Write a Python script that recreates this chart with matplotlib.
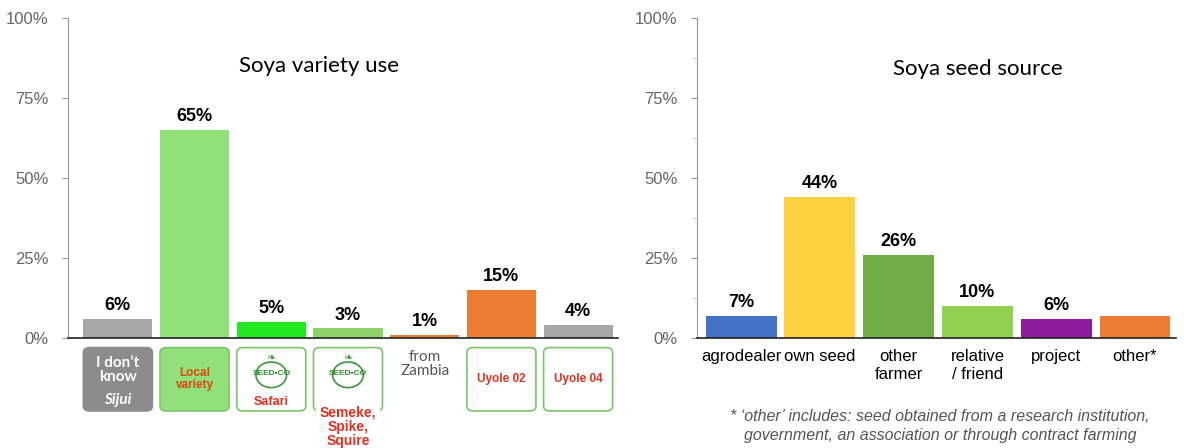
import numpy as np
import matplotlib.pyplot as plt
from matplotlib.patches import FancyBboxPatch, Ellipse

# left chart: variety use
variety_vals = [6, 65, 5, 3, 1, 15, 4]
variety_cols = ["#a6a6a6", "#92e07a", "#22e822", "#8fd16a", "#e8803a", "#ec7c31", "#a6a6a6"]

# right chart: seed source
source_labels = ["agrodealer", "own seed", "other\nfarmer", "relative\n/ friend", "project", "other*"]
source_vals = [7, 44, 26, 10, 6, 7]
source_cols = ["#4472c4", "#fdd13f", "#70ad47", "#92d050", "#8e1b9c", "#ed7d31"]
source_shown = [True, True, True, True, True, False]

footnote = ("* \u2018other\u2019 includes: seed obtained from a research institution,\n"
            "government, an association or through contract farming")

plt.rcParams["font.family"] = ["Liberation Sans", "DejaVu Sans"]

fig = plt.figure(figsize=(11.84, 4.48), dpi=100)
ax1 = fig.add_axes([68/1184, 1-338/448, 550/1184, 320/448])
ax2 = fig.add_axes([697/1184, 1-338/448, 479/1184, 320/448])

def style(ax, minor=False):
    ax.set_ylim(0, 100)
    ax.set_yticks([0, 25, 50, 75, 100])
    ax.set_yticklabels(["0%", "25%", "50%", "75%", "100%"])
    if minor:
        ax.set_yticks([12.5, 37.5, 62.5, 87.5], minor=True)
        ax.tick_params(axis="y", which="minor", length=3, color="#bbbbbb")
    ax.tick_params(axis="y", which="major", length=4, color="#999999",
                   labelsize=12, labelcolor="#666666", pad=10)
    ax.tick_params(axis="x", length=0)
    for s in ["top", "right"]:
        ax.spines[s].set_visible(False)
    ax.spines["left"].set_color("#999999")
    ax.spines["bottom"].set_color("#222222")
    ax.spines["bottom"].set_linewidth(1.2)

# ---- left
x1 = np.arange(len(variety_vals))
ax1.bar(x1, variety_vals, width=0.9, color=variety_cols)
ax1.set_xlim(-0.65, 6.52)
style(ax1)
ax1.set_xticks([])
for i, v in enumerate(variety_vals):
    ax1.text(i, v + 1.5, f"{v}%", ha="center", va="bottom", fontsize=13, fontweight="bold")
ax1.text(2.62, 85, "Soya variety use", ha="center", va="center", fontsize=16, family="Lato")

# boxes below axis
y0, y1 = -23.0, -2.8
red = "#e03020"
boxes = [
    dict(face="#8c8c8c", edge="#8c8c8c"),
    dict(face="#92e07a", edge="#7cc46a"),
    dict(face="white", edge="#7cc46a"),
    dict(face="white", edge="#7cc46a"),
    None,
    dict(face="white", edge="#7cc46a"),
    dict(face="white", edge="#7cc46a"),
]
for i, b in enumerate(boxes):
    if b is None:
        continue
    p = FancyBboxPatch((i - 0.45 + 0.05, y0 + 1.2), 0.8, (y1 - y0) - 2.4,
                       boxstyle="round,pad=0.05,rounding_size=0.08",
                       mutation_aspect=20, fc=b["face"], ec=b["edge"], lw=1.2,
                       clip_on=False, transform=ax1.transData)
    ax1.add_patch(p)

ax1.text(0, -10, "I don\u2019t\nknow", ha="center", va="center", color="white",
         fontsize=11, fontweight="bold", clip_on=False, linespacing=1.0, family="Lato")
ax1.text(0, -19.5, "Sijui", ha="center", va="center", color="white", fontsize=11,
         style="italic", fontweight="bold", family="Lato", clip_on=False)
ax1.text(1, -12.8, "Local\nvariety", ha="center", va="center", color="#d9480f",
         fontsize=8.5, fontweight="bold", linespacing=0.95, clip_on=False)
for i in (2, 3):
    ax1.add_patch(Ellipse((i, -11.5), 0.4, 8.0, fc="none", ec="#3a9a3a", lw=1.2,
                          clip_on=False))
    ax1.text(i, -11.2, "SEED\u2022CO", ha="center", va="center", color="#2a8a2a",
             fontsize=6, fontweight="bold", clip_on=False)
    ax1.text(i, -6.3, "\u2767", ha="center", va="center", color="#3a9a3a",
             fontsize=8, clip_on=False)
ax1.text(2, -20.0, "Safari", ha="center", va="center", color=red, fontsize=9,
         fontweight="bold", clip_on=False)
ax1.add_patch(plt.Rectangle((3 - 0.42, y0 - 0.5), 0.84, 3.5, fc="white", ec="none",
                            clip_on=False, zorder=3))
ax1.text(3, -27.8, "Semeke,\nSpike,\nSquire", ha="center", va="center", color=red,
         fontsize=10, fontweight="bold", linespacing=1.0, clip_on=False, zorder=4)
ax1.text(4, -8, "from\nZambia", ha="center", va="center", color="#555555",
         fontsize=11, family="Lato", linespacing=1.0, clip_on=False)
ax1.text(5, -12.8, "Uyole 02", ha="center", va="center", color=red, fontsize=8.5,
         fontweight="bold", clip_on=False)
ax1.text(6, -12.8, "Uyole 04", ha="center", va="center", color=red, fontsize=8.5,
         fontweight="bold", clip_on=False)

# ---- right
x2 = np.arange(len(source_vals))
ax2.bar(x2, source_vals, width=0.9, color=source_cols)
ax2.set_xlim(-0.56, 5.52)
style(ax2, minor=True)
ax2.set_xticks(x2)
ax2.set_xticklabels(source_labels, fontsize=12, va="top")
ax2.tick_params(axis="x", pad=8)
for i, v in enumerate(source_vals):
    if source_shown[i]:
        ax2.text(i, v + 1.5, f"{v}%", ha="center", va="bottom", fontsize=13, fontweight="bold")
ax2.text(3.0, 84, "Soya seed source", ha="center", va="center", fontsize=16, family="Lato")

fig.text(940/1184, 1-426/448, footnote, ha="center", va="center", fontsize=11.5,
         style="italic", color="#555555", linespacing=1.4)

fig.savefig("out.png", dpi=100)
